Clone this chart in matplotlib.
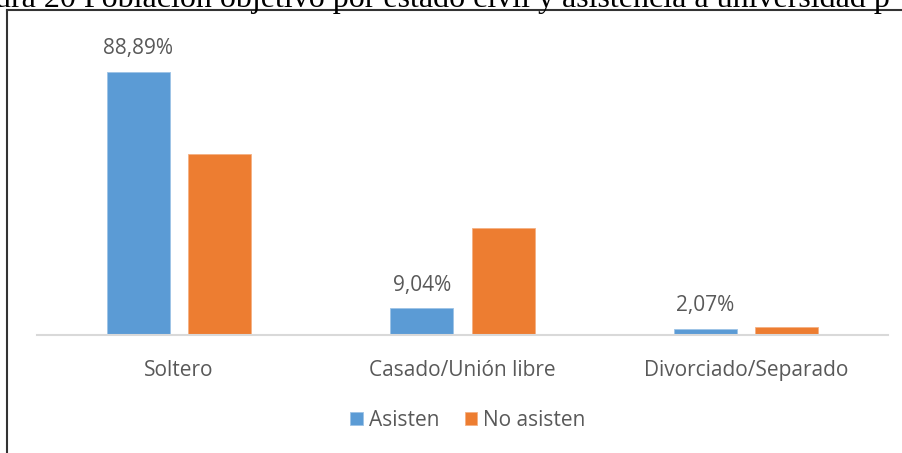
import matplotlib.pyplot as plt
import numpy as np

categorias = ['Soltero', 'Casado/Unión libre', 'Divorciado/Separado']
asisten = [88.89, 9.04, 2.07]
no_asisten = [61.0, 36.2, 2.8]
etiquetas = ['88,89%', '9,04%', '2,07%']

azul = '#5B9BD5'
naranja = '#ED7D31'
gris = '#595959'

plt.rcParams['font.family'] = ['Open Sans', 'DejaVu Sans']

fig = plt.figure(figsize=(9.02, 4.53), dpi=100)
W, H = 902, 453

# marco del documento (cortado a la derecha y abajo)
fig.add_artist(plt.Line2D([7.5 / W, 7.5 / W], [0, 1 - 10 / H], color='#333333', lw=1.5))
fig.add_artist(plt.Line2D([7.5 / W, 1], [1 - 10 / H, 1 - 10 / H], color='#333333', lw=1.5))

# título cortado arriba
fig.text(-0.006, 1 - 7 / H, 'ura 20 Población objetivo por estado civil y asistencia a universidad p',
         family='Liberation Serif', fontsize=23, va='baseline', ha='left', color='black')

ax = fig.add_axes([37 / W, 1 - 335 / H, 851 / W, 296 / H])
x = np.arange(len(categorias))
w = 0.222
off = 0.143
ax.bar(x - off, asisten, w, color=azul, edgecolor='#9DC3E6', linewidth=0.6, label='Asisten')
ax.bar(x + off, no_asisten, w, color=naranja, edgecolor='#F4B183', linewidth=0.6, label='No asisten')

for xi, v, t in zip(x, asisten, etiquetas):
    ax.annotate(t, (xi - off, v), xytext=(0, 9), textcoords='offset points',
                ha='center', va='bottom', color=gris, fontsize=15)

ax.set_xlim(-0.5, 2.5)
ax.set_ylim(0, 100)
for s in ['top', 'right', 'left']:
    ax.spines[s].set_visible(False)
ax.spines['bottom'].set_color('#D9D9D9')
ax.spines['bottom'].set_linewidth(1.5)
ax.set_yticks([])
ax.set_xticks(x)
ax.set_xticklabels(categorias, color=gris, fontsize=15)
ax.tick_params(axis='x', length=0, pad=18)

handles, labels = ax.get_legend_handles_labels()
fig.legend(handles, labels, loc='center', bbox_to_anchor=(468 / W, 1 - 420 / H), ncol=2,
           frameon=False, fontsize=15, labelcolor=gris, handlelength=0.6, handleheight=0.6,
           handletextpad=0.3, columnspacing=1.2)

fig.savefig('out.png', dpi=100, facecolor='white')
